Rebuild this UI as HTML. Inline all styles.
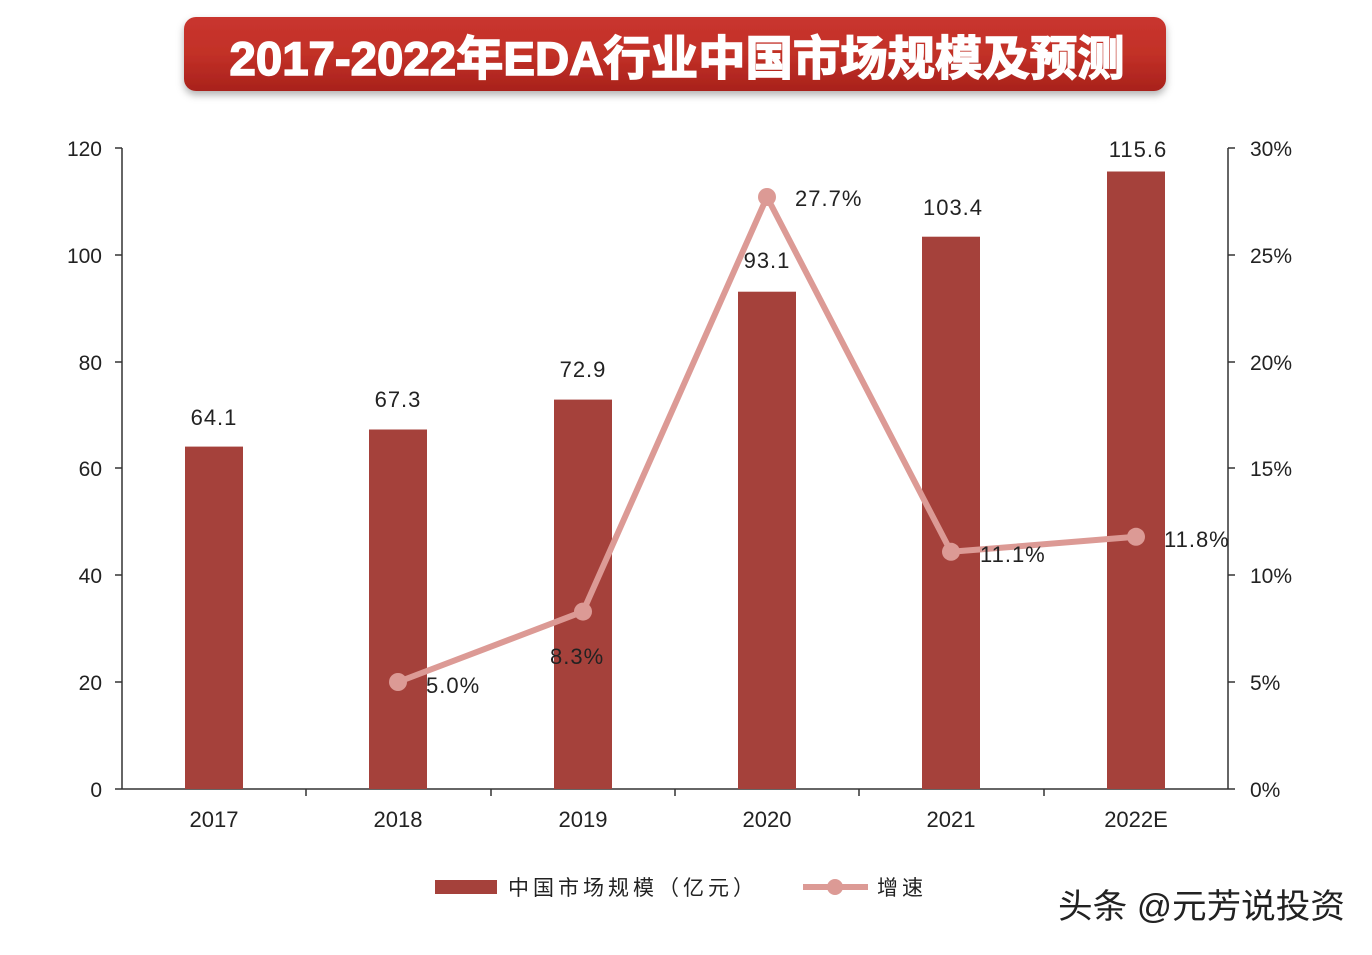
<!DOCTYPE html>
<html><head><meta charset="utf-8"><style>
body{margin:0;background:#fff;}
svg text{font-family:"Liberation Sans","Noto Sans CJK SC",sans-serif;}
</style></head><body>
<svg width="1372" height="950" xmlns="http://www.w3.org/2000/svg">
<defs>
<linearGradient id="tg" x1="0" y1="0" x2="0" y2="1">
<stop offset="0" stop-color="#c9352f"/><stop offset="0.5" stop-color="#c23027"/><stop offset="1" stop-color="#a8221c"/>
</linearGradient>
<filter id="sh" x="-5%" y="-20%" width="110%" height="150%"><feDropShadow dx="0" dy="4" stdDeviation="4" flood-color="#000" flood-opacity="0.3"/></filter>
</defs>
<rect x="184" y="17" width="982" height="74" rx="12" fill="url(#tg)" filter="url(#sh)"/>
<text x="677" y="75" text-anchor="middle" font-size="47" font-weight="bold" fill="#fff" stroke="#fff" stroke-width="1.5" textLength="895" lengthAdjust="spacingAndGlyphs">2017-2022年EDA行业中国市场规模及预测</text>
<g stroke="#333" stroke-width="1.5" fill="none">
<line x1="122" y1="148" x2="122" y2="789"/>
<line x1="1228" y1="148" x2="1228" y2="789"/>
<line x1="122" y1="789" x2="1228" y2="789"/>
<path d="M115 148H122M115 255H122M115 362H122M115 468H122M115 575H122M115 682H122M115 789H122"/>
<path d="M1228 148H1235M1228 255H1235M1228 362H1235M1228 468H1235M1228 575H1235M1228 682H1235M1228 789H1235"/>
<path d="M306 789V796M491 789V796M675 789V796M859 789V796M1044 789V796"/>
</g>
<g font-size="21" fill="#222" text-anchor="end">
<text x="102" y="156">120</text><text x="102" y="263">100</text><text x="102" y="370">80</text><text x="102" y="476">60</text><text x="102" y="583">40</text><text x="102" y="690">20</text><text x="102" y="797">0</text>
</g>
<g font-size="21" fill="#222">
<text x="1250" y="156">30%</text><text x="1250" y="263">25%</text><text x="1250" y="370">20%</text><text x="1250" y="476">15%</text><text x="1250" y="583">10%</text><text x="1250" y="690">5%</text><text x="1250" y="797">0%</text>
</g>
<g fill="#a5413b">
<rect x="185" y="446.6" width="58" height="342.4"/>
<rect x="369" y="429.5" width="58" height="359.5"/>
<rect x="554" y="399.6" width="58" height="389.4"/>
<rect x="738" y="291.7" width="58" height="497.3"/>
<rect x="922" y="236.7" width="58" height="552.3"/>
<rect x="1107" y="171.5" width="58" height="617.5"/>
</g>
<g font-size="22" fill="#222" text-anchor="middle" letter-spacing="1">
<text x="214" y="425">64.1</text><text x="398" y="407">67.3</text><text x="583" y="377">72.9</text><text x="767" y="268">93.1</text><text x="953" y="215">103.4</text><text x="1138" y="157">115.6</text>
</g>
<g font-size="22" fill="#222" text-anchor="middle">
<text x="214" y="827">2017</text><text x="398" y="827">2018</text><text x="583" y="827">2019</text><text x="767" y="827">2020</text><text x="951" y="827">2021</text><text x="1136" y="827">2022E</text>
</g>
<polyline points="398,682 583,611.6 767,197 951,551.8 1136,536.8" fill="none" stroke="#dc9a95" stroke-width="6" stroke-linejoin="round"/>
<g fill="#dc9a95">
<circle cx="398" cy="682" r="9"/><circle cx="583" cy="611.6" r="9"/><circle cx="767" cy="197" r="9"/><circle cx="951" cy="551.8" r="9"/><circle cx="1136" cy="536.8" r="9"/>
</g>
<g font-size="22" fill="#222" letter-spacing="1">
<text x="426" y="693">5.0%</text><text x="550" y="664">8.3%</text><text x="795" y="206">27.7%</text><text x="980" y="562">11.1%</text><text x="1164" y="547">11.8%</text>
</g>
<rect x="435" y="880" width="62" height="14" fill="#a5413b"/>
<text x="508" y="895" font-size="21" fill="#222" letter-spacing="4">中国市场规模（亿元）</text>
<line x1="803" y1="887" x2="868" y2="887" stroke="#dc9a95" stroke-width="6"/>
<circle cx="835" cy="887" r="8" fill="#dc9a95"/>
<text x="877" y="895" font-size="21" fill="#222" letter-spacing="4">增速</text>
<text x="1058" y="918" font-size="34" fill="#222" textLength="287" lengthAdjust="spacingAndGlyphs">头条 @元芳说投资</text>
</svg>
</body></html>
